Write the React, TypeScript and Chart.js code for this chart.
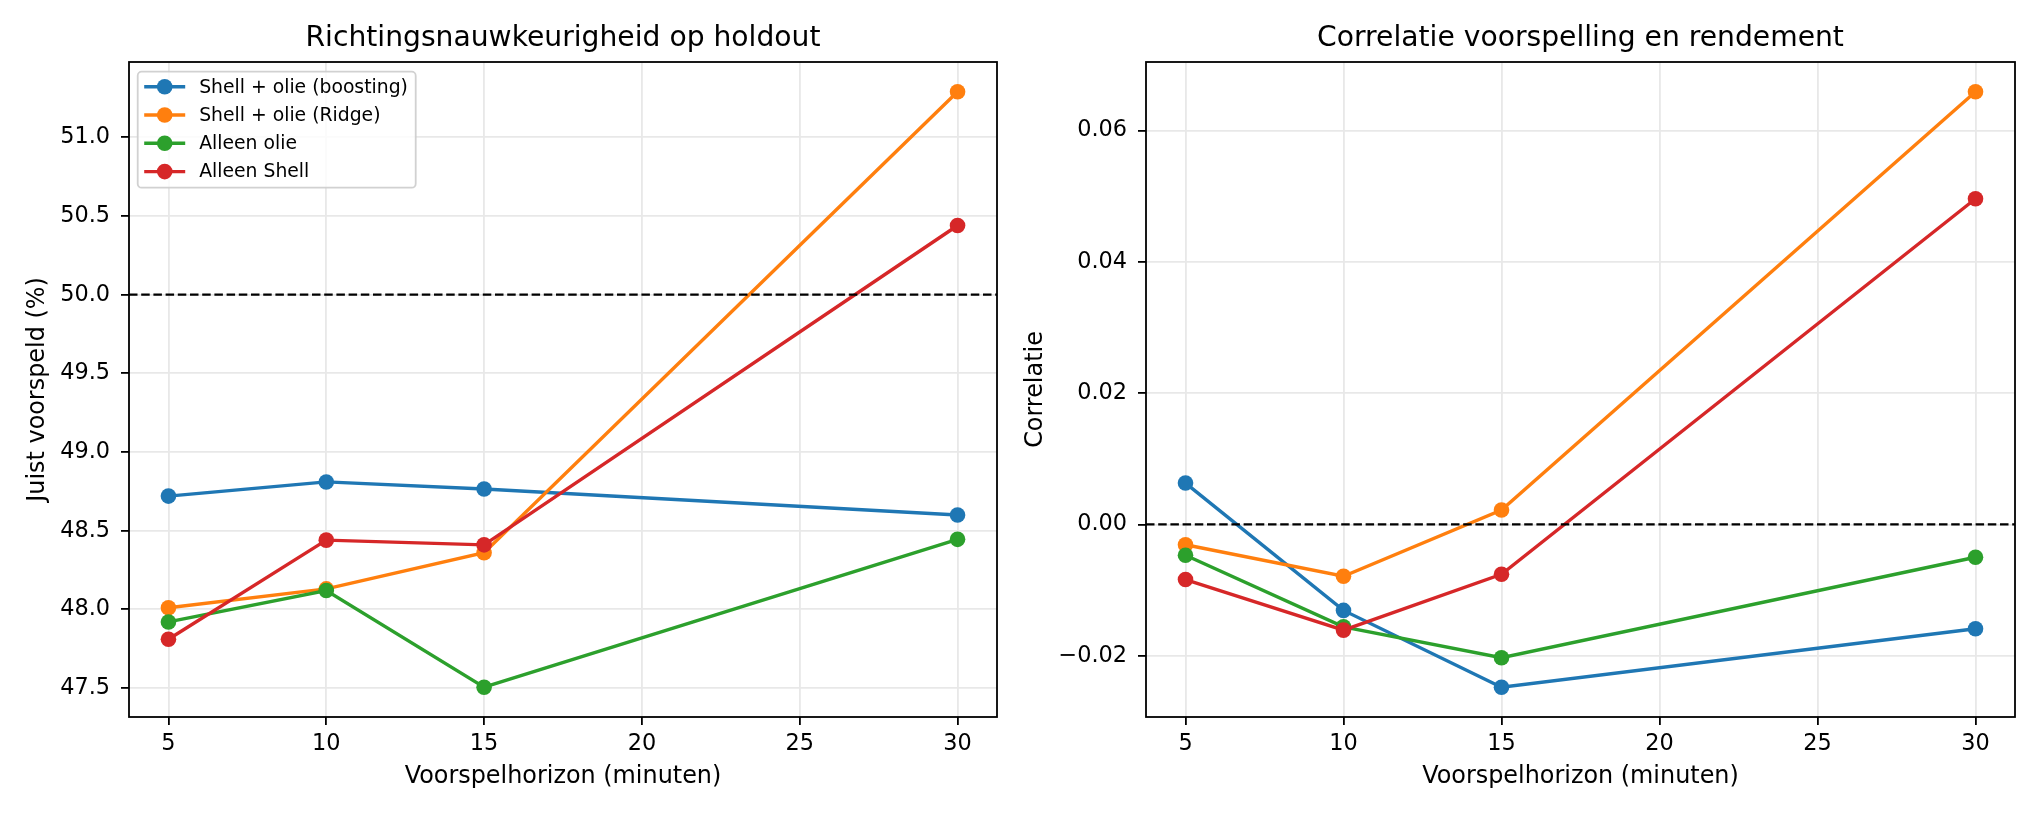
import React, { useEffect, useRef } from 'react';
import { Chart, registerables } from 'chart.js';

Chart.register(...registerables);

// ---------- data ----------
const horizons = [5, 10, 15, 30];
const seriesNames = ['Shell + olie (boosting)', 'Shell + olie (Ridge)', 'Alleen olie', 'Alleen Shell'];
const seriesColors = ['#1f77b4', '#ff7f0e', '#2ca02c', '#d62728'];

const accBoosting = [48.72, 48.81, 48.765, 48.6];
const accRidge = [48.01, 48.13, 48.36, 51.29];
const accOil = [47.92, 48.12, 47.505, 48.445];
const accShell = [47.81, 48.44, 48.41, 50.44];

const corrBoosting = [0.0063, -0.0131, -0.0248, -0.0159];
const corrRidge = [-0.0031, -0.0079, 0.0022, 0.0659];
const corrOil = [-0.0047, -0.0156, -0.0203, -0.005];
const corrShell = [-0.0084, -0.0161, -0.0076, 0.0496];

const xTicks = [5, 10, 15, 20, 25, 30];
const accTicks = [47.5, 48.0, 48.5, 49.0, 49.5, 50.0, 50.5, 51.0];
const corrTicks = [-0.02, 0.0, 0.02, 0.04, 0.06];

const accReference = 50;
const corrReference = 0;

const leftTitle = 'Richtingsnauwkeurigheid op holdout';
const rightTitle = 'Correlatie voorspelling en rendement';
const xLabel = 'Voorspelhorizon (minuten)';
const accYLabel = 'Juist voorspeld (%)';
const corrYLabel = 'Correlatie';

// ---------- helpers ----------
const FONT = "'DejaVu Sans', 'Liberation Sans', sans-serif";

function autoRange(values: number[]): [number, number] {
  const lo = Math.min(...values);
  const hi = Math.max(...values);
  const m = (hi - lo) * 0.05;
  return [lo - m, hi + m];
}

const xRange = autoRange(horizons);

function fmtCorr(v: number): string {
  if (Math.abs(v) < 1e-9) return '0.00';
  return (v < 0 ? '\u2212' : '') + Math.abs(v).toFixed(2);
}

interface PanelSpec {
  series: number[][];
  reference: number;
  yTicks: number[];
  fmt: (v: number) => string;
  title: string;
  yLabel: string;
  yLabelBaseline: number;
  yAxisWidth: number;
  padRight: number;
  legend: boolean;
}

function makeConfig(spec: PanelSpec): any {
  const [yMin, yMax] = autoRange(spec.series.flat());
  const datasets: any[] = spec.series.map((vals, i) => ({
    label: seriesNames[i],
    data: horizons.map((x, j) => ({ x, y: vals[j] })),
    borderColor: seriesColors[i],
    backgroundColor: seriesColors[i],
    borderWidth: 3.4,
    pointRadius: 7.8,
    pointHoverRadius: 7.8,
    pointBorderWidth: 0,
    tension: 0,
    order: 10 - i,
  }));
  datasets.push({
    label: 'ref',
    data: [
      { x: xRange[0], y: spec.reference },
      { x: xRange[1], y: spec.reference },
    ],
    borderColor: '#000000',
    borderWidth: 2.3,
    borderDash: [8.5, 3.7],
    pointRadius: 0,
    pointHoverRadius: 0,
    order: -1,
  });

  const decorPlugin = {
    id: 'decor',
    afterDraw(chart: any) {
      const { ctx, chartArea } = chart;
      const { left, right, top, bottom } = chartArea;
      ctx.save();
      // frame (all four spines)
      ctx.strokeStyle = '#000000';
      ctx.lineWidth = 1.8;
      ctx.strokeRect(left, top, right - left, bottom - top);

      // title
      ctx.fillStyle = '#000000';
      ctx.textAlign = 'center';
      ctx.textBaseline = 'alphabetic';
      ctx.font = `28.2px ${FONT}`;
      ctx.fillText(spec.title, (left + right) / 2, top - 16);

      // x label
      ctx.font = `23.9px ${FONT}`;
      ctx.fillText(xLabel, (left + right) / 2, 783);

      // y label
      ctx.save();
      ctx.translate(spec.yLabelBaseline, (top + bottom) / 2);
      ctx.rotate(-Math.PI / 2);
      ctx.textAlign = 'center';
      ctx.textBaseline = 'alphabetic';
      ctx.fillText(spec.yLabel, 0, 0);
      ctx.restore();

      // legend
      if (spec.legend) {
        const bx = left + 8.7;
        const by = top + 9.7;
        const bw = 278;
        const bh = 116;
        const r = 4;
        ctx.beginPath();
        ctx.moveTo(bx + r, by);
        ctx.lineTo(bx + bw - r, by);
        ctx.arcTo(bx + bw, by, bx + bw, by + r, r);
        ctx.lineTo(bx + bw, by + bh - r);
        ctx.arcTo(bx + bw, by + bh, bx + bw - r, by + bh, r);
        ctx.lineTo(bx + r, by + bh);
        ctx.arcTo(bx, by + bh, bx, by + bh - r, r);
        ctx.lineTo(bx, by + r);
        ctx.arcTo(bx, by, bx + r, by, r);
        ctx.closePath();
        ctx.fillStyle = 'rgba(255,255,255,0.8)';
        ctx.fill();
        ctx.strokeStyle = 'rgba(204,204,204,0.9)';
        ctx.lineWidth = 1.8;
        ctx.stroke();

        ctx.font = `18.8px ${FONT}`;
        ctx.textAlign = 'left';
        ctx.textBaseline = 'middle';
        seriesNames.forEach((name, i) => {
          const cy = by + 15 + i * 28.3;
          ctx.strokeStyle = seriesColors[i];
          ctx.lineWidth = 3.4;
          ctx.beginPath();
          ctx.moveTo(bx + 6.5, cy);
          ctx.lineTo(bx + 47.5, cy);
          ctx.stroke();
          ctx.fillStyle = seriesColors[i];
          ctx.beginPath();
          ctx.arc(bx + 27, cy, 7.8, 0, Math.PI * 2);
          ctx.fill();
          ctx.fillStyle = '#000000';
          ctx.fillText(name, bx + 61.5, cy + 1);
        });
      }
      ctx.restore();
    },
  };

  return {
    type: 'line',
    data: { datasets },
    options: {
      animation: false,
      responsive: false,
      maintainAspectRatio: false,
      devicePixelRatio: 1,
      events: [],
      layout: { padding: { left: 0, right: spec.padRight, top: 62, bottom: 0 } },
      plugins: {
        legend: { display: false },
        tooltip: { enabled: false },
        title: { display: false },
      },
      scales: {
        x: {
          type: 'linear',
          min: xRange[0],
          max: xRange[1],
          afterBuildTicks: (s: any) => {
            s.ticks = xTicks.map((v) => ({ value: v }));
          },
          afterFit: (s: any) => {
            s.height = 99;
          },
          border: { display: false },
          grid: {
            color: '#e8e8e8',
            lineWidth: 1.8,
            tickColor: '#000000',
            tickLength: 8,
            tickWidth: 1.8,
          },
          ticks: {
            color: '#000000',
            font: { family: FONT, size: 22.4 },
            padding: 6,
            maxRotation: 0,
            autoSkip: false,
            callback: (v: any) => String(v),
          },
        },
        y: {
          type: 'linear',
          min: yMin,
          max: yMax,
          afterBuildTicks: (s: any) => {
            s.ticks = spec.yTicks.map((v) => ({ value: v }));
          },
          afterFit: (s: any) => {
            s.width = spec.yAxisWidth;
          },
          border: { display: false },
          grid: {
            color: '#e8e8e8',
            lineWidth: 1.8,
            tickColor: '#000000',
            tickLength: 8,
            tickWidth: 1.8,
          },
          ticks: {
            color: '#000000',
            font: { family: FONT, size: 22.4 },
            padding: 11,
            autoSkip: false,
            callback: (v: any) => spec.fmt(Number(v)),
          },
        },
      },
    },
    plugins: [decorPlugin],
  };
}

function Panel({ spec, left }: { spec: PanelSpec; left: number }) {
  const ref = useRef<HTMLCanvasElement | null>(null);
  useEffect(() => {
    if (!ref.current) return;
    const chart = new Chart(ref.current, makeConfig(spec));
    return () => chart.destroy();
  }, [spec]);
  return (
    <canvas
      ref={ref}
      width={1020}
      height={816}
      style={{ position: 'absolute', left, top: 0, width: 1020, height: 816 }}
    />
  );
}

const leftSpec: PanelSpec = {
  series: [accBoosting, accRidge, accOil, accShell],
  reference: accReference,
  yTicks: accTicks,
  fmt: (v) => v.toFixed(1),
  title: leftTitle,
  yLabel: accYLabel,
  yLabelBaseline: 44,
  yAxisWidth: 129,
  padRight: 23,
  legend: true,
};

const rightSpec: PanelSpec = {
  series: [corrBoosting, corrRidge, corrOil, corrShell],
  reference: corrReference,
  yTicks: corrTicks,
  fmt: fmtCorr,
  title: rightTitle,
  yLabel: corrYLabel,
  yLabelBaseline: 21.5,
  yAxisWidth: 126,
  padRight: 25,
  legend: false,
};

export default function App() {
  return (
    <div
      style={{
        position: 'absolute',
        left: 0,
        top: 0,
        width: 2040,
        height: 816,
        background: '#ffffff',
        overflow: 'hidden',
      }}
    >
      <Panel spec={leftSpec} left={0} />
      <Panel spec={rightSpec} left={1020} />
    </div>
  );
}
